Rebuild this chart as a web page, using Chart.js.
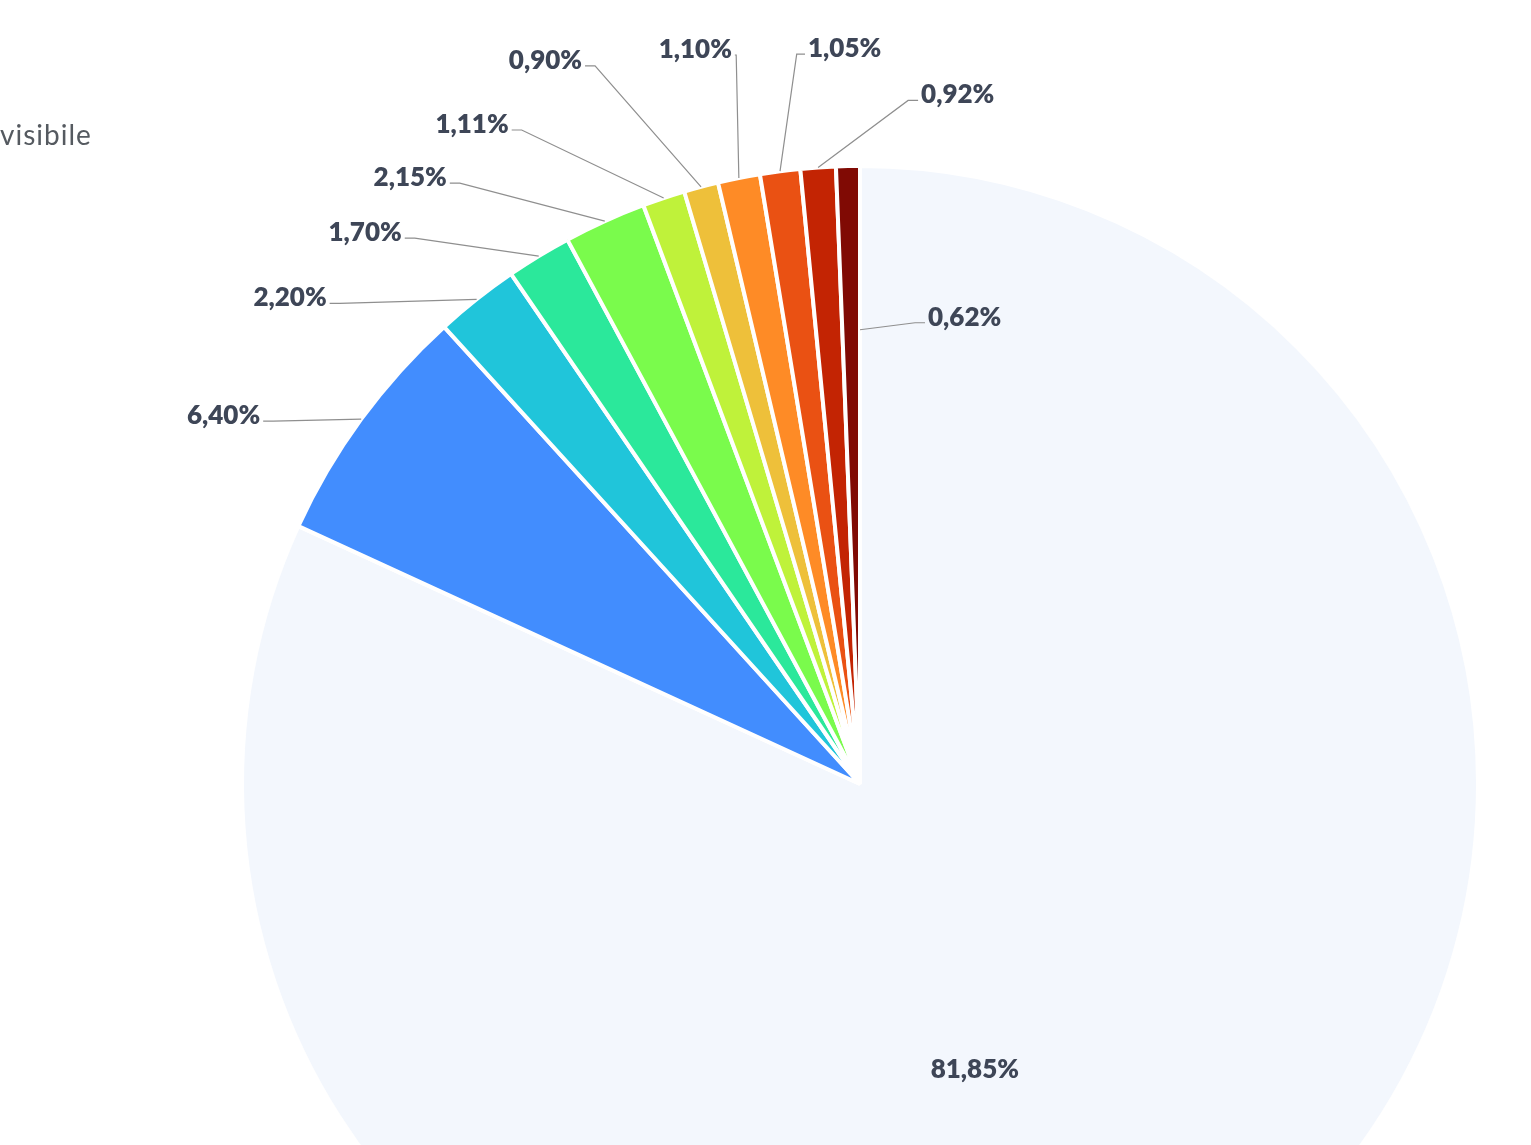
<!DOCTYPE html>
<html lang="it">
<head>
<meta charset="utf-8">
<title>Torta</title>
<script src="https://cdn.jsdelivr.net/npm/chart.js@4.4.1/dist/chart.umd.min.js"></script>
<style>
  html, body { margin: 0; padding: 0; background: #fff; overflow: hidden; }
  #wrap { position: absolute; left: 0; top: 0; width: 1720px; height: 1568px; }
</style>
</head>
<body>
<div id="wrap"><canvas id="torta"></canvas></div>
<script>
// dati della torta, in senso orario partendo dalle ore 12
const categorie = ['Voce 1', 'Voce 2', 'Voce 3', 'Voce 4', 'Voce 5', 'Voce 6',
                   'Voce 7', 'Voce 8', 'Voce 9', 'Voce 10', 'Voce 11'];
const valori = [81.85, 6.40, 2.20, 1.70, 2.15, 1.11, 0.90, 1.10, 1.05, 0.92, 0.62];
const colori = ['#F3F7FD', '#428DFE', '#20C5DA', '#2BE89B', '#7AFB4C', '#BFF23A',
                '#EEC03A', '#FE8B26', '#EA5113', '#C32403', '#800A04'];
const testoTagliato = 'visibile';

// impaginazione etichette: punto d'aggancio sulla fetta [frazione angolo, frazione raggio]
// e scostamento del testo rispetto a quel punto
const aggancio = [[0.5, 0.5], [0.5, 1], [0.5, 1], [0.5, 1], [0.5, 1], [0.5, 1],
                  [0.5, 1], [0.5, 1], [0.5, 1], [0.5, 1], [1, 0.735]];
const scostamento = [[-52, 24], [-98, 2], [-147, 4], [-134, -18], [-155, -38], [-152, -68],
                     [-116, -121], [-4, -123], [25, -117], [100, -67], [65, -7]];
const conLinea = [false, true, true, true, true, true, true, true, true, true, true];

const fmt = v => v.toFixed(2).replace('.', ',') + '%';

const etichette = {
  id: 'etichette',
  afterDatasetsDraw(chart) {
    const ctx = chart.ctx;
    const arcs = chart.getDatasetMeta(0).data;
    ctx.save();
    ctx.font = '800 26px Lato, "Open Sans", sans-serif';
    ctx.textBaseline = 'alphabetic';
    arcs.forEach((arc, i) => {
      const p = arc.getProps(['x', 'y', 'startAngle', 'endAngle', 'outerRadius'], true);
      const [af, rf] = aggancio[i];
      const a = p.startAngle + (p.endAngle - p.startAngle) * af;
      const ax = p.x + Math.cos(a) * p.outerRadius * rf;
      const ay = p.y + Math.sin(a) * p.outerRadius * rf;
      const [dx, dy] = scostamento[i];
      const tx = ax + dx, ty = ay + dy;
      const testo = fmt(valori[i]);
      ctx.fillStyle = '#3E4657';
      if (!conLinea[i]) {
        ctx.textAlign = 'center';
        ctx.fillText(testo, tx, ty + 10);
        return;
      }
      const dir = dx < 0 ? 1 : -1;
      const gomito = Math.min(10, Math.abs(dx) / 3);
      ctx.strokeStyle = '#8f8f8f';
      ctx.lineWidth = 1.2;
      ctx.beginPath();
      ctx.moveTo(tx, ty);
      ctx.lineTo(tx + dir * gomito, ty);
      ctx.lineTo(ax, ay);
      ctx.stroke();
      ctx.textAlign = dx < 0 ? 'right' : 'left';
      ctx.fillText(testo, tx - dir * 3, ty + 3);
    });
    // resto della legenda, tagliato dal bordo
    ctx.font = '400 28px Lato, "Open Sans", sans-serif';
    ctx.textAlign = 'left';
    ctx.fillStyle = '#555a60';
    if ('letterSpacing' in ctx) ctx.letterSpacing = '1px';
    ctx.fillText(testoTagliato, 0, 145);
    ctx.restore();
  }
};

new Chart(document.getElementById('torta'), {
  type: 'pie',
  data: {
    labels: categorie,
    datasets: [{
      data: valori,
      backgroundColor: colori,
      borderColor: '#ffffff',
      borderWidth: 4,
      hoverOffset: 0,
      offset: 0,
      radius: 618
    }]
  },
  options: {
    responsive: true,
    maintainAspectRatio: false,
    animation: false,
    layout: { padding: 0 },
    plugins: {
      legend: { display: false },
      tooltip: { enabled: false }
    }
  },
  plugins: [etichette]
});
</script>
</body>
</html>
